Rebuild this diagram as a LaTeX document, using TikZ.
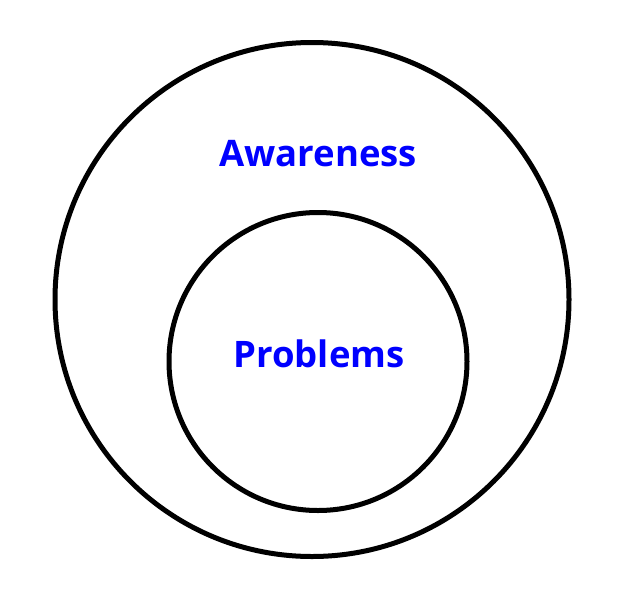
\documentclass[tikz,border=0pt]{standalone}
\usepackage{fontspec}
\setmainfont{Open Sans}
\begin{document}
\begin{tikzpicture}[x=1pt,y=-1pt,
  ring/.style={draw=black,line width=5pt,circle,inner sep=0pt},
  lbl/.style={text=blue,font=\fontsize{36.5}{40}\selectfont\bfseries,inner sep=0pt}]
\useasboundingbox (0,0) rectangle (621,600);
\node[ring,minimum size=514pt] (outer) at (312,299.5) {};
\node[ring,minimum size=298pt] (inner) at (318,361.5) {};
\node[lbl] (aw) at (318,154) {Awareness};
\node[lbl] (pr) at (319,354) {Problems};
\end{tikzpicture}
\end{document}
